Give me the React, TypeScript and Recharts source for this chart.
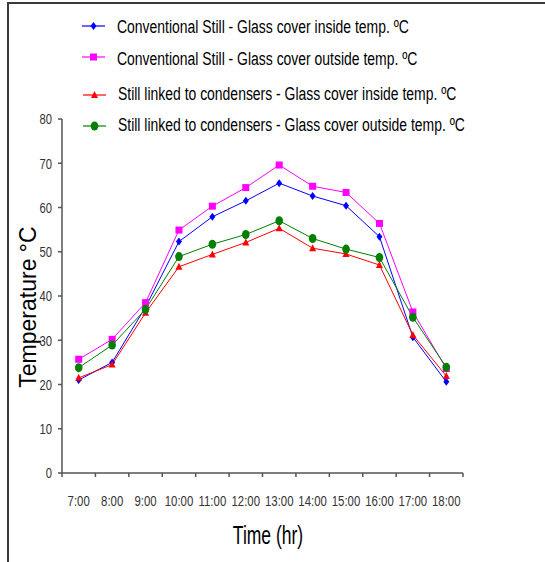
import React from "react";
import { LineChart, Line, XAxis, YAxis, Legend } from "recharts";

const hours = ["7:00", "8:00", "9:00", "10:00", "11:00", "12:00", "13:00", "14:00", "15:00", "16:00", "17:00", "18:00"];
const convInside = [21.0, 25.0, 37.5, 52.3, 57.9, 61.5, 65.5, 62.6, 60.4, 53.4, 30.7, 20.6];
const convOutside = [25.7, 30.2, 38.5, 54.9, 60.3, 64.5, 69.6, 64.8, 63.4, 56.4, 36.4, 23.6];
const condInside = [21.5, 24.5, 36.2, 46.6, 49.4, 52.1, 55.3, 50.8, 49.5, 47.0, 31.2, 21.9];
const condOutside = [23.8, 28.9, 37.0, 48.9, 51.7, 53.9, 57.0, 53.0, 50.6, 48.7, 35.2, 23.9];
const yTicks = [0, 10, 20, 30, 40, 50, 60, 70, 80];

const W = 545;
const H = 562;
const M = { top: 119, right: 82, left: 12, bottom: 49 };
const Y_AXIS_W = 50;
const X_AXIS_H = 40;
const PLOT_BOTTOM = H - M.bottom - X_AXIS_H;
const BAND = (W - M.left - Y_AXIS_W - M.right) / hours.length;
const FONT = "'Liberation Sans', Arial, sans-serif";

const data = hours.map((h, i) => ({
  hour: h,
  convInside: convInside[i],
  convOutside: convOutside[i],
  condInside: condInside[i],
  condOutside: condOutside[i],
}));

const Diamond = ({ cx, cy, fill }: any) => (
  <polygon points={`${cx},${cy - 4} ${cx + 3},${cy} ${cx},${cy + 4} ${cx - 3},${cy}`} fill={fill} />
);
const Square = ({ cx, cy, fill }: any) => <rect x={cx - 3.5} y={cy - 3.5} width={7} height={7} fill={fill} />;
const Triangle = ({ cx, cy, fill }: any) => (
  <polygon points={`${cx},${cy - 4} ${cx + 3.5},${cy + 3} ${cx - 3.5},${cy + 3}`} fill={fill} />
);
const Circle = ({ cx, cy, fill }: any) => <ellipse cx={cx} cy={cy} rx={3.8} ry={4.5} fill={fill} />;

const series = [
  { key: "convInside", name: "Conventional Still - Glass cover inside temp. \u00baC", color: "#0000ff", Marker: Diamond },
  { key: "convOutside", name: "Conventional Still - Glass cover outside temp. \u00baC", color: "#ff00ff", Marker: Square },
  { key: "condInside", name: "Still linked to condensers - Glass cover inside temp. \u00baC", color: "#ff0000", Marker: Triangle },
  { key: "condOutside", name: "Still linked to condensers - Glass cover outside temp. \u00baC", color: "#008000", Marker: Circle },
];

// legend rows: [line y, text baseline, line x start, text x]
const legendRows = [
  [26, 33, 82, 117],
  [57, 64.5, 82, 117],
  [95, 99.5, 83, 118],
  [126, 131, 83, 118],
];

// legend plus the x axis title, drawn in one overlay
const renderLegend = () => (
  <svg width={W} height={H} style={{ display: "block", pointerEvents: "none" }}>
    {series.map((s, i) => {
      const [ly, ty, lx, tx] = legendRows[i];
      const Mk = s.Marker;
      return (
        <g key={s.key}>
          <line x1={lx} x2={lx + 23} y1={ly} y2={ly} stroke={s.color} strokeWidth={1.2} />
          <Mk cx={lx + 11.5} cy={ly} fill={s.color} />
          <g transform={`translate(${tx},${ty}) scale(0.775,1)`}>
            <text x={0} y={0} fontSize={18} fontFamily={FONT} fill="#000">
              {s.name}
            </text>
          </g>
        </g>
      );
    })}
    <g transform={`translate(268,${PLOT_BOTTOM + 71}) scale(0.7,1)`}>
      <text x={0} y={0} textAnchor="middle" fontSize={25} fontFamily={FONT} fill="#000">
        Time (hr)
      </text>
    </g>
  </svg>
);

const XTick = ({ x, payload, index }: any) => {
  const half = BAND / 2;
  return (
    <g>
      <line x1={x - half} x2={x - half} y1={PLOT_BOTTOM} y2={PLOT_BOTTOM + 4} stroke="#555" strokeWidth={1.5} />
      {index === hours.length - 1 && (
        <line x1={x + half} x2={x + half} y1={PLOT_BOTTOM} y2={PLOT_BOTTOM + 4} stroke="#555" strokeWidth={1.5} />
      )}
      <g transform={`translate(${x},${PLOT_BOTTOM + 33}) scale(0.76,1)`}>
        <text x={0} y={0} textAnchor="middle" fontSize={15} fontFamily={FONT} fill="#333">
          {payload.value}
        </text>
      </g>
    </g>
  );
};

const YTick = ({ x, y, payload }: any) => (
  <g transform={`translate(${x},${y}) scale(0.75,1)`}>
    <text x={0} y={5.3} textAnchor="end" fontSize={15} fontFamily={FONT} fill="#333">
      {payload.value}
    </text>
  </g>
);

export default function App() {
  return (
    <div style={{ position: "absolute", left: 0, top: 0, width: W, height: H, background: "#fff" }}>
      <div
        style={{
          position: "absolute",
          left: 7,
          top: 2,
          width: W - 7,
          height: H - 2,
          borderTop: "2px solid #3a3a3a",
          borderLeft: "2px solid #3a3a3a",
          boxSizing: "border-box",
        }}
      />
      <LineChart width={W} height={H} data={data} margin={M}>
        <XAxis
          dataKey="hour"
          type="category"
          scale="band"
          height={X_AXIS_H}
          tickLine={false}
          axisLine={{ stroke: "#555", strokeWidth: 1.5 }}
          tick={<XTick />}
          interval={0}
        />
        <YAxis
          type="number"
          domain={[0, 80]}
          ticks={yTicks}
          width={Y_AXIS_W}
          tickSize={4}
          tickMargin={6}
          tickLine={{ stroke: "#555", strokeWidth: 1.5 }}
          axisLine={{ stroke: "#555", strokeWidth: 1.5 }}
          tick={<YTick />}
          interval={0}
        />
        <Legend
          content={renderLegend}
          layout="horizontal"
          verticalAlign="middle"
          align="center"
          wrapperStyle={{ position: "absolute", top: 0, left: 0, width: W, height: H, pointerEvents: "none" }}
        />
        {series.map((s) => {
          const Mk = s.Marker;
          return (
            <Line
              key={s.key}
              dataKey={s.key}
              name={s.name}
              stroke={s.color}
              strokeWidth={1}
              dot={(p: any) => <Mk key={`${s.key}-${p.index}`} cx={p.cx} cy={p.cy} fill={s.color} />}
              activeDot={false}
              isAnimationActive={false}
            />
          );
        })}
      </LineChart>
      <div
        style={{
          position: "absolute",
          left: 28 - 100,
          top: 307 - 14,
          width: 200,
          height: 28,
          lineHeight: "28px",
          textAlign: "center",
          transform: "rotate(-90deg)",
          fontFamily: FONT,
          fontSize: 23,
          color: "#000",
          whiteSpace: "nowrap",
        }}
      >
        Temperature {"\u00b0"}C
      </div>
    </div>
  );
}
